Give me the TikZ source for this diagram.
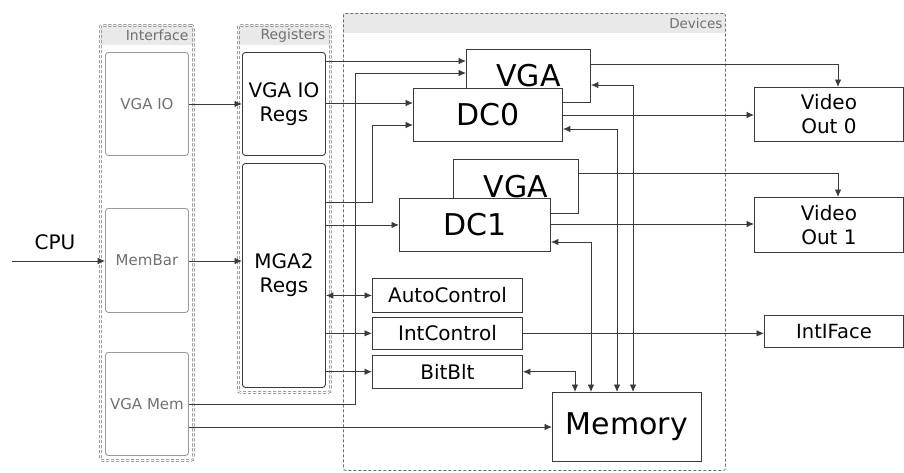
\documentclass[tikz,border=0pt]{standalone}
\usepackage{fontspec}
\setmainfont{DejaVu Sans}
\usetikzlibrary{arrows.meta, positioning}
\definecolor{wire}{HTML}{3A3A3A}
\definecolor{labelgray}{HTML}{707070}
\definecolor{headfill}{HTML}{E9E9E9}

\begin{document}
\begin{tikzpicture}[
x=1pt, y=-1pt,
>={Latex[length=7.5pt,width=6.5pt]},
every node/.style={inner sep=0pt},
every path/.style={draw=wire, line width=0.9pt},
grouphead/.style={fill=headfill, draw=none, anchor=north west, minimum height=20pt},
grouptitle/.style={text=labelgray, font=\fontsize{14}{16}\selectfont},
group/.style={draw=gray!85!black, dash pattern=on 3pt off 2pt, double, double distance=1.2pt, line width=0.6pt, rounded corners=2pt, anchor=north west},
ifbox/.style={draw=gray!80, rounded corners=3pt, anchor=north west, minimum width=83pt, minimum height=103pt, text=labelgray, font=\fontsize{15}{18}\selectfont},
regbox/.style={draw=wire, rounded corners=3pt, anchor=north west, minimum width=83pt, align=center, font=\fontsize{20}{24}\selectfont},
devbox/.style={draw=wire, fill=white, anchor=north west, font=\fontsize{30}{34}\selectfont},
ctlbox/.style={draw=wire, anchor=north west, minimum width=150pt, font=\fontsize{20}{24}\selectfont},
outbox/.style={draw=wire, anchor=north west, align=center, font=\fontsize{20}{24}\selectfont}
]
\useasboundingbox[draw=none] (0,0) rectangle (904,472);

\node[grouphead, minimum width=93pt] (interfacehead) at (100,25) {};
\node[grouptitle, left=5pt of interfacehead.east] (interfacetitle) {Interface};
\node[group, minimum width=93pt, minimum height=435pt] (interfacegrp) at (100,25) {};

\node[grouphead, minimum width=92pt] (registershead) at (238,25) {};
\node[grouptitle, left=5pt of registershead.east] (registerstitle) {Registers};
\node[group, minimum width=92pt, minimum height=367pt] (registersgrp) at (238,25) {};

\node[grouphead, minimum width=382pt] (deviceshead) at (343,13) {};
\node[grouptitle, font=\fontsize{13.5}{16}\selectfont, left=3pt of deviceshead.east] (devicestitle) {Devices};
\node[group, double=none, line width=0.8pt, minimum width=382pt, minimum height=457pt] (devicesgrp) at (343,13) {};

\node[ifbox] (vgaio) at (105,52) {VGA IO};
\node[ifbox, minimum height=104pt] (membar) at (105,208) {MemBar};
\node[ifbox] (vgamem) at (105,352) {VGA Mem};

\node[regbox, minimum height=103pt] (vgaioregs) at (242,52) {VGA IO\\Regs};
\node[regbox, minimum height=224pt] (mga2regs) at (242,163) {MGA2\\Regs};

\node[font=\fontsize{20}{24}\selectfont] (cpu) at (55,242) {CPU};
\coordinate (cpuin) at (12,261);

\node[devbox, minimum width=124pt, minimum height=53pt] (vga0) at (466,49) {VGA};
\node[devbox, minimum width=149pt, minimum height=53pt] (dc0) at (413,88) {DC0};
\node[devbox, minimum width=125pt, minimum height=54pt] (vga1) at (453,159) {VGA};
\node[devbox, minimum width=151pt, minimum height=53pt] (dc1) at (399,198) {DC1};

\node[ctlbox, minimum height=34pt] (autoctl) at (372,278) {AutoControl};
\node[ctlbox, minimum height=32pt, below=4pt of autoctl] (intctl) {IntControl};
\node[ctlbox, minimum height=33pt, below=5pt of intctl] (bitblt) {BitBlt};

\node[devbox, minimum width=149pt, minimum height=69pt] (memory) at (552,392) {Memory};

\node[outbox, minimum width=149pt, minimum height=54pt] (videoout0) at (754,87) {Video\\Out 0};
\node[outbox, minimum width=149pt, minimum height=55pt] (videoout1) at (754,197) {Video\\Out 1};
\node[outbox, minimum width=139pt, minimum height=32pt, font=\fontsize{19.5}{24}\selectfont] (intiface) at (764,315) {IntIFace};

\draw[->] (cpuin) -- (cpuin -| membar.west);
\draw[->] (vgaio.east) -- (vgaio.east -| vgaioregs.west);
\draw[->] (membar.east |- 0,261) -- (mga2regs.west |- 0,261);
\draw[->] (vgaioregs.east |- 0,61) -- (vga0.west |- 0,61);
\draw[->] (vgaioregs.east |- 0,103) -- (dc0.west |- 0,103);
\draw[->] (vgamem.east |- 0,404) -| (355,73) -- (vga0.west |- 0,73);
\draw[->] (vgamem.east |- 0,427) -- (memory.west |- 0,427);
\draw[->] (mga2regs.east |- 0,202) -| (372,125) -- (dc0.west |- 0,125);
\draw[->] (mga2regs.east |- dc1.west) -- (dc1.west);
\draw[<->] (mga2regs.east |- autoctl.west) -- (autoctl.west);
\draw[->] (mga2regs.east |- intctl.west) -- (intctl.west);
\draw[->] (mga2regs.east |- bitblt.west) -- (bitblt.west);

\draw[->] (vga0.east |- 0,64) -| (838,0 |- videoout0.north);
\draw[->] (dc0.east |- 0,115) -- (videoout0.west |- 0,115);
\draw[->] (vga1.east |- 0,173) -| (838,0 |- videoout1.north);
\draw[->] (dc1.east |- 0,224) -- (videoout1.west |- 0,224);
\draw[->] (intctl.east) -- (intctl.east -| intiface.west);

\draw[<->] (vga0.east |- 0,85) -| (633,0 |- memory.north);
\draw[<->] (dc0.east |- 0,129) -| (617,0 |- memory.north);
\draw[<->] (dc1.east |- 0,242) -| (591,0 |- memory.north);
\draw[<->] (bitblt.east) -| (575,0 |- memory.north);

\end{tikzpicture}
\end{document}
